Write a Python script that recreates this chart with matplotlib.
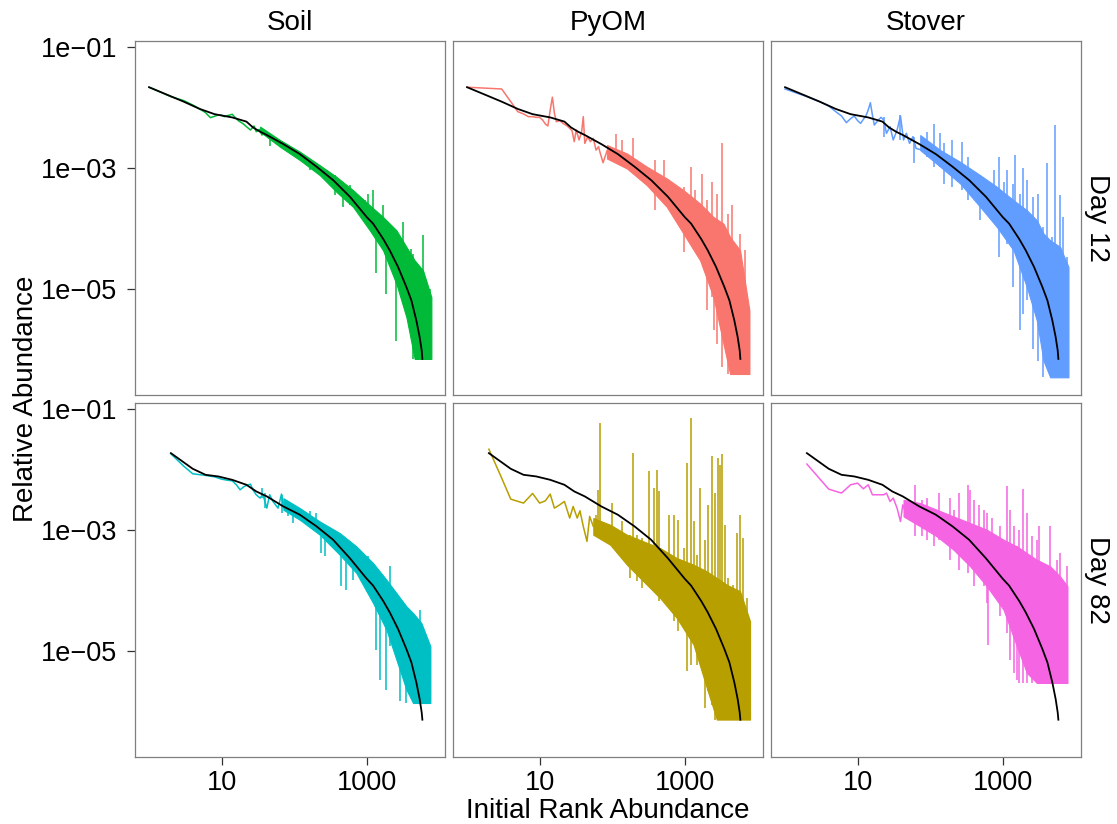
import matplotlib
matplotlib.use("Agg")
import matplotlib.pyplot as plt

plt.rcParams['font.family'] = ['Liberation Sans', 'DejaVu Sans']

# ---------------- categories / labels ----------------
treatments = ["Soil", "PyOM", "Stover"]
days = ["Day 12", "Day 82"]
x_tick_values = [10, 1000]
x_tick_labels = ["10", "1000"]
y_tick_values = [1e-1, 1e-3, 1e-5]
y_tick_labels = ["1e\u221201", "1e\u221203", "1e\u221205"]
x_title = "Initial Rank Abundance"
y_title = "Relative Abundance"

# ---------------- reference (initial) rank abundance curves, black ----------------
ref_d12_rank = [1, 2, 3, 5, 8, 14, 22, 27, 34, 42, 71, 120, 204, 347, 589, 1000, 1227, 1694, 2080, 2710,
                3532, 4140, 4842, 5383, 5741, 5861]
ref_d12_ra = [0.0215, 0.0152, 0.0124, 0.0094, 0.0077, 0.0068, 0.0058, 0.00466, 0.00394, 0.00348, 0.00246,
              0.00168, 0.00104, 6.2e-4, 3.3e-4, 1.53e-4, 1.19e-4, 6.6e-5, 4.3e-5, 2.28e-5, 1.06e-5, 6.37e-6,
              2.97e-6, 1.57e-6, 9.44e-7, 6.87e-7]
ref_d82_rank = [2, 4, 6, 9, 14, 22, 30, 42, 71, 120, 203, 344, 584, 1000, 1227, 1694, 2080, 2710, 3532, 4140,
                4842, 5383, 5741, 5861]
ref_d82_ra = [0.0185, 0.0102, 0.00811, 0.00762, 0.0067, 0.00554, 0.00431, 0.00356, 0.00243, 0.00177, 0.00114,
              6.84e-4, 3.4e-4, 1.55e-4, 1.19e-4, 6.6e-5, 4.3e-5, 2.28e-5, 1.06e-5, 6.37e-6, 2.97e-6, 1.57e-6,
              9.44e-7, 7.2e-7]

# ---------------- Soil, Day 12 ----------------
soil_d12_early_rank = [1, 2, 3, 4, 5, 6, 7, 8, 9, 10, 11, 12, 13, 14, 15, 17, 20, 22, 25, 28, 30, 33, 36, 40]
soil_d12_early_ra = [0.0215, 0.0150, 0.0129, 0.0109, 0.00938, 0.00816, 0.00675, 0.0071, 0.00746, 0.00736, 0.0070,
                     0.00728, 0.00746, 0.00766, 0.0070, 0.00601, 0.0053, 0.00479, 0.00421, 0.00491, 0.00395,
                     0.00432, 0.00348, 0.0038]
soil_d12_band_rank = [34, 64, 120, 226, 383, 650, 1104, 1683, 2570, 3532, 4592, 5985, 7798]
soil_d12_band_lo = [3.94e-3, 2.22e-3, 1.34e-3, 7.54e-4, 3.99e-4, 2.25e-4, 9.23e-5, 4.3e-5, 1.2e-5, 3.37e-6,
                    6.87e-7, 6.87e-7, 6.87e-7]
soil_d12_band_hi = [4.78e-3, 2.87e-3, 1.84e-3, 1.1e-3, 7.07e-4, 4.25e-4, 2.39e-4, 1.53e-4, 9.23e-5, 4.89e-5,
                    2.93e-5, 2.0e-5, 7.23e-6]
soil_d12_spike_rank = [46, 164, 363, 473, 584, 941, 1047, 1227, 1334, 1683, 1871, 2570, 3177, 4140, 4360, 5985, 7390]
soil_d12_spike_hi = [3.47e-3, 1.34e-3, 7.54e-4, 5.85e-4, 5.14e-4, 2.9e-4, 3.74e-4, 4.25e-4, 7.14e-5, 2.4e-4,
                     4.3e-5, 5.55e-5, 1.27e-4, 4.58e-5, 3.79e-5, 7.62e-5, 9.96e-6]
soil_d12_spike_lo = [2.28e-3, 9.12e-4, 3.51e-4, 2.25e-4, 2.39e-4, 1.35e-4, 1.53e-4, 1.19e-4, 1.81e-5, 5.55e-5,
                     8.22e-6, 1.38e-6, 7.23e-6, 2.3e-6, 6.87e-7, 4.35e-6, 6.87e-7]

# ---------------- PyOM, Day 12 ----------------
pyom_d12_early_rank = [1, 2, 3, 4, 5, 6, 7, 8, 9, 10, 11, 12, 13, 14, 15, 16, 17, 19, 21, 24, 26, 28, 30, 32,
                       35, 38, 40, 42, 46, 50, 55, 60, 65, 68, 75, 85]
pyom_d12_early_ra = [0.0215, 0.0206, 0.0201, 0.0124, 0.00847, 0.00777, 0.0070, 0.0070, 0.00682, 0.00682,
                     0.00616, 0.0053, 0.00491, 0.00903, 0.0147, 0.00796, 0.00578, 0.00601, 0.00543, 0.00491,
                     0.00449, 0.0041, 0.0027, 0.00421, 0.00288, 0.00395, 0.0070, 0.00253, 0.00327, 0.0027,
                     0.00306, 0.00196, 0.00223, 0.0018, 0.00121, 0.0019]
pyom_d12_band_rank = [85, 160, 301, 568, 963, 1634, 2493, 3427, 4234, 5808, 7809]
pyom_d12_band_lo = [1.42e-3, 9.73e-4, 5.14e-4, 2.25e-4, 8.13e-5, 2.93e-5, 7.23e-6, 1.22e-6, 3.87e-7, 3.87e-7,
                    3.87e-7]
pyom_d12_band_hi = [2.37e-3, 1.72e-3, 1.04e-3, 6.64e-4, 4.25e-4, 2.55e-4, 1.53e-4, 1.19e-4, 7.14e-5, 4.3e-5,
                    4.35e-6]
pyom_d12_spike_rank = [113, 136, 197, 393, 511, 984, 1216, 1396, 1722, 2018, 2366, 2576, 2774, 3251, 4018, 4467,
                       4955, 5808, 6808, 7655]
pyom_d12_spike_hi = [3.61e-3, 2.87e-3, 3.05e-3, 1.34e-3, 1.34e-3, 4.83e-4, 1.01e-3, 4.25e-4, 8.03e-4, 2.9e-4,
                     5.85e-4, 5.55e-5, 3.74e-4, 2.59e-3, 1.74e-4, 2.39e-4, 2.93e-5, 8.13e-5, 4.3e-5, 4.64e-6]
pyom_d12_spike_lo = [1.52e-3, 1.34e-3, 9.73e-4, 1.98e-4, 3.74e-4, 4.04e-5, 1.98e-4, 5.55e-5, 4.3e-5, 4.35e-6,
                     7.23e-6, 2.03e-6, 1.22e-6, 5.0e-7, 3.87e-7, 3.87e-7, 3.87e-7, 3.87e-7, 3.87e-7, 3.87e-7]

# ---------------- Stover, Day 12 ----------------
stover_d12_early_rank = [1, 2, 3, 4, 5, 6, 7, 8, 9, 10, 11, 12, 13, 14, 15, 16, 17, 19, 21, 23, 25, 28, 31, 35,
                         39, 43, 47, 52, 58, 64, 73]
stover_d12_early_ra = [0.0201, 0.0150, 0.0124, 0.0105, 0.00847, 0.00718, 0.00557, 0.00649, 0.00718, 0.00601,
                       0.00543, 0.00632, 0.00718, 0.00903, 0.0119, 0.00746, 0.00509, 0.00601, 0.00682, 0.00616,
                       0.00371, 0.00479, 0.00288, 0.00421, 0.00718, 0.00288, 0.00371, 0.00253, 0.00327, 0.00209,
                       0.0020]
stover_d12_band_rank = [73, 138, 260, 490, 831, 1412, 2155, 2958, 3655, 4518, 6198, 8073]
stover_d12_band_lo = [1.96e-3, 1.04e-3, 5.48e-4, 2.25e-4, 1.05e-4, 4.3e-5, 1.06e-5, 2.97e-6, 6.44e-7, 3.41e-7,
                      3.41e-7, 3.41e-7]
stover_d12_band_hi = [3.47e-3, 1.96e-3, 1.25e-3, 7.53e-4, 4.83e-4, 2.9e-4, 1.98e-4, 1.35e-4, 8.13e-5, 6.3e-5,
                      4.89e-5, 2.28e-5]
stover_d12_spike_rank = [23, 39, 59, 90, 114, 135, 153, 199, 274, 328, 490, 748, 877, 1050, 1143, 1381, 1486,
                         1742, 1897, 2155, 2606, 3119, 3655, 4064, 4759, 5284, 6198, 6745, 7816]
stover_d12_spike_hi = [7.0e-3, 7.45e-3, 3.26e-3, 3.95e-3, 5.28e-3, 3.7e-3, 2.52e-3, 2.87e-3, 2.69e-3, 1.52e-3,
                       7.08e-4, 9.12e-4, 1.52e-3, 5.85e-4, 9.12e-4, 5.48e-4, 1.62e-3, 3.74e-4, 9.73e-4, 6.22e-4,
                       3.3e-4, 3.74e-4, 1.05e-4, 1.18e-3, 7.16e-5, 5.08e-3, 3.51e-4, 1.53e-4, 3.33e-5]
stover_d12_spike_lo = [3.26e-3, 2.87e-3, 1.18e-3, 1.52e-3, 1.04e-3, 1.04e-3, 5.48e-4, 4.83e-4, 4.25e-4, 2.9e-4,
                       1.35e-4, 1.98e-4, 3.33e-5, 8.13e-5, 5.55e-5, 1.06e-5, 4.3e-5, 2.03e-6, 3.83e-6, 6.37e-6,
                       1.01e-6, 6.44e-7, 3.41e-7, 5.0e-7, 3.41e-7, 3.41e-7, 3.41e-7, 3.41e-7, 3.41e-7]

# ---------------- Soil, Day 82 ----------------
soil_d82_early_rank = [2, 3, 4, 6, 8, 10, 12, 14, 16, 18, 20, 22, 25, 27, 30, 34, 37, 42, 46, 51, 60, 67, 71]
soil_d82_early_ra = [0.0180, 0.0113, 0.00843, 0.00791, 0.0075, 0.00687, 0.0066, 0.00645, 0.00554, 0.00458,
                     0.0051, 0.00541, 0.00569, 0.00458, 0.00379, 0.00334, 0.00389, 0.00228, 0.00379, 0.00294,
                     0.00228, 0.00389, 0.0024]
soil_d82_band_rank = [71, 120, 226, 426, 722, 1227, 1872, 2570, 3532, 4358, 5680, 7556]
soil_d82_band_lo = [2.14e-3, 1.46e-3, 8.26e-4, 3.85e-4, 1.92e-4, 6.12e-5, 2.22e-5, 7.1e-6, 2.26e-6, 1.36e-6,
                    1.36e-6, 1.36e-6]
soil_d82_band_hi = [3.33e-3, 2.28e-3, 1.37e-3, 8.8e-4, 5.3e-4, 2.81e-4, 1.49e-4, 8.97e-5, 5.4e-5, 4.19e-5,
                    2.86e-5, 1.18e-5]
soil_d82_spike_rank = [36, 40, 67, 83, 97, 164, 203, 238, 265, 449, 515, 650, 1047, 1362, 1514, 1871, 2080, 2858,
                       3532, 4140, 5383, 6653, 7396]
soil_d82_spike_hi = [4.88e-3, 4.04e-3, 3.79e-3, 2.94e-3, 2.43e-3, 2.01e-3, 1.88e-3, 1.06e-3, 1.0e-3, 6.83e-4,
                     4.67e-4, 4.67e-4, 3.62e-4, 1.49e-4, 1.49e-4, 1.16e-4, 2.47e-4, 4.75e-5, 4.47e-5, 4.19e-5,
                     4.75e-5, 1.43e-5, 9.14e-6]
soil_d82_spike_lo = [3.33e-3, 2.28e-3, 1.88e-3, 1.66e-3, 1.29e-3, 1.21e-3, 1.0e-3, 4.11e-4, 3.62e-4, 1.16e-4,
                     1.02e-4, 1.49e-4, 8.97e-5, 1.04e-5, 3.31e-6, 2.26e-6, 1.18e-5, 1.45e-6, 1.36e-6, 2.0e-6,
                     1.36e-6, 1.36e-6, 1.36e-6]

# ---------------- PyOM, Day 82 ----------------
pyom_d82_early_rank = [2, 3, 4, 6, 8, 10, 12, 14, 16, 19, 22, 26, 29, 33, 36, 40, 45, 49, 55]
pyom_d82_early_ra = [0.0215, 0.00715, 0.00321, 0.00276, 0.00399, 0.00276, 0.00301, 0.00389, 0.00228, 0.00259,
                     0.00294, 0.00156, 0.00243, 0.00156, 0.00206, 0.00114, 0.000641, 0.00166, 0.00114]
pyom_d82_band_rank = [55, 94, 160, 271, 459, 779, 1324, 2019, 2775, 3809, 5808, 7980]
pyom_d82_band_lo = [8.26e-4, 5.65e-4, 2.64e-4, 1.4e-4, 7.41e-5, 3.47e-5, 1.26e-5, 2.42e-6, 7.23e-7, 7.23e-7,
                    7.23e-7, 7.23e-7]
pyom_d82_band_hi = [1.56e-3, 1.21e-3, 8.26e-4, 6.41e-4, 4.97e-4, 3.4e-4, 2.64e-4, 2.05e-4, 1.59e-4, 1.23e-4,
                    9.57e-5, 3.05e-5]
pyom_d82_spike_rank = [60, 63, 68, 101, 136, 174, 197, 219, 257, 324, 372, 413, 445, 599, 702, 822, 984, 1094,
                       1228, 1365, 1470, 1634, 1915, 2128, 2366, 2630, 2924, 3083, 3319, 3614, 4018, 4702, 5342,
                       5808, 6457, 7177, 7809]
pyom_d82_spike_hi = [1.77e-3, 4.58e-3, 0.0579, 2.76e-3, 1.37e-3, 8.26e-4, 0.0185, 8.26e-4, 7.28e-4, 9.21e-3,
                     4.89e-3, 9.81e-3, 4.31e-3, 1.77e-3, 1.77e-3, 1.46e-3, 4.97e-4, 0.0127, 0.0702, 1.37e-3,
                     3.86e-4, 4.89e-3, 6.84e-4, 2.59e-3, 0.0163, 4.04e-3, 0.0153, 0.0119, 0.0178, 1.21e-3,
                     1.59e-4, 1.23e-4, 8.81e-4, 1.77e-3, 7.28e-4, 7.41e-5, 3.47e-5]
pyom_d82_spike_lo = [1.14e-3, 1.06e-3, 9.38e-4, 7.28e-4, 3.86e-4, 1.59e-4, 4.38e-4, 1.4e-4, 1.09e-4, 2.64e-4,
                     1.59e-4, 9.57e-5, 6.54e-5, 5.75e-5, 3.05e-5, 2.08e-5, 3.47e-5, 4.55e-6, 5.86e-6, 1.62e-5,
                     5.86e-6, 8.59e-6, 1.13e-6, 2.13e-6, 1.28e-6, 7.23e-7, 7.23e-7, 7.23e-7, 7.23e-7, 7.23e-7,
                     7.23e-7, 7.23e-7, 7.23e-7, 7.23e-7, 7.23e-7, 7.23e-7, 7.23e-7]

# ---------------- Stover, Day 82 ----------------
stover_d82_early_rank = [2, 3, 4, 6, 8, 10, 12, 14, 16, 23, 25, 28, 31, 35, 39, 42, 46, 50, 55]
stover_d82_early_ra = [0.0122, 0.00697, 0.0047, 0.00404, 0.00554, 0.00591, 0.00476, 0.00554, 0.00379, 0.00379,
                       0.00404, 0.00294, 0.00334, 0.00228, 0.00137, 0.00259, 0.00188, 0.00243, 0.00201]
stover_d82_band_rank = [43, 73, 124, 210, 357, 606, 1028, 1568, 2153, 2956, 4517, 6197, 7818]
stover_d82_band_lo = [1.66e-3, 1.14e-3, 7.76e-4, 4.67e-4, 2.48e-4, 1.16e-4, 4.76e-5, 1.18e-5, 4.28e-6, 2.92e-6,
                      2.92e-6, 2.92e-6, 2.92e-6]
stover_d82_band_hi = [3.13e-3, 2.76e-3, 2.14e-3, 1.66e-3, 1.29e-3, 1.0e-3, 6.84e-4, 5.31e-4, 4.11e-4, 3.19e-4,
                      2.48e-4, 1.69e-4, 1.16e-4]
stover_d82_spike_rank = [62, 77, 90, 114, 131, 189, 210, 247, 289, 328, 357, 397, 465, 545, 606, 625, 710, 925,
                         1143, 1271, 1413, 1568, 1706, 1937, 2153, 2523, 2956, 3219, 3654, 4517, 5020, 5577,
                         6197, 6745, 7656]
stover_d82_spike_hi = [5.55e-3, 3.13e-3, 3.33e-3, 1.46e-3, 4.04e-3, 3.33e-3, 2.14e-3, 4.04e-3, 1.29e-3, 5.55e-3,
                       4.58e-3, 3.13e-3, 2.59e-3, 2.14e-3, 1.88e-3, 7.76e-4, 1.56e-3, 1.14e-3, 5.2e-3, 2.14e-3,
                       1.14e-3, 5.31e-4, 1.0e-3, 4.7e-3, 1.88e-3, 7.76e-4, 6.84e-4, 1.14e-3, 1.69e-4, 1.14e-3,
                       1.16e-4, 3.19e-4, 4.11e-4, 3.69e-5, 2.54e-4]
stover_d82_spike_lo = [7.76e-4, 7.76e-4, 6.84e-4, 5.31e-4, 6.84e-4, 3.19e-4, 4.67e-4, 2.18e-4, 3.19e-4, 1.92e-4,
                       3.19e-4, 1.16e-4, 1.69e-4, 1.16e-4, 6.14e-5, 1.26e-5, 8.97e-5, 3.69e-5, 1.96e-5, 7.1e-6,
                       4.28e-6, 3.32e-6, 2.92e-6, 2.92e-6, 2.92e-6, 2.92e-6, 2.92e-6, 2.92e-6, 2.92e-6, 2.92e-6,
                       2.92e-6, 2.92e-6, 2.92e-6, 2.92e-6, 2.92e-6]

colors = {
    ("Soil", "Day 12"): "#00BA38", ("PyOM", "Day 12"): "#F8766D", ("Stover", "Day 12"): "#619CFF",
    ("Soil", "Day 82"): "#00BFC4", ("PyOM", "Day 82"): "#B79F00", ("Stover", "Day 82"): "#F564E3",
}

series = {
    ("Soil", "Day 12"): (soil_d12_early_rank, soil_d12_early_ra, soil_d12_band_rank, soil_d12_band_lo,
                         soil_d12_band_hi, soil_d12_spike_rank, soil_d12_spike_lo, soil_d12_spike_hi),
    ("PyOM", "Day 12"): (pyom_d12_early_rank, pyom_d12_early_ra, pyom_d12_band_rank, pyom_d12_band_lo,
                         pyom_d12_band_hi, pyom_d12_spike_rank, pyom_d12_spike_lo, pyom_d12_spike_hi),
    ("Stover", "Day 12"): (stover_d12_early_rank, stover_d12_early_ra, stover_d12_band_rank, stover_d12_band_lo,
                           stover_d12_band_hi, stover_d12_spike_rank, stover_d12_spike_lo, stover_d12_spike_hi),
    ("Soil", "Day 82"): (soil_d82_early_rank, soil_d82_early_ra, soil_d82_band_rank, soil_d82_band_lo,
                         soil_d82_band_hi, soil_d82_spike_rank, soil_d82_spike_lo, soil_d82_spike_hi),
    ("PyOM", "Day 82"): (pyom_d82_early_rank, pyom_d82_early_ra, pyom_d82_band_rank, pyom_d82_band_lo,
                         pyom_d82_band_hi, pyom_d82_spike_rank, pyom_d82_spike_lo, pyom_d82_spike_hi),
    ("Stover", "Day 82"): (stover_d82_early_rank, stover_d82_early_ra, stover_d82_band_rank, stover_d82_band_lo,
                           stover_d82_band_hi, stover_d82_spike_rank, stover_d82_spike_lo, stover_d82_spike_hi),
}
references = {"Day 12": (ref_d12_rank, ref_d12_ra), "Day 82": (ref_d82_rank, ref_d82_ra)}

# ---------------- layout ----------------
W, H = 1117, 824
fig = plt.figure(figsize=(W / 100, H / 100), dpi=100)
col_left = [135, 453, 771]
col_w = 310
row_top = [41, 403]
row_h = 354
FS_TICK = 19.5
FS = 20
border = "#7F7F7F"

for r, day in enumerate(days):
    for c, trt in enumerate(treatments):
        ax = fig.add_axes([col_left[c] / W, 1 - (row_top[r] + row_h) / H, col_w / W, row_h / H])
        ax.set_xscale("log")
        ax.set_yscale("log")
        col = colors[(trt, day)]
        er, ev, br, blo, bhi, sr, slo, shi = series[(trt, day)]
        ax.fill_between(br, blo, bhi, color=col, lw=0.8, edgecolor=col)
        ax.plot(er, ev, color=col, lw=1.1)
        ax.vlines(sr, slo, shi, color=col, lw=1.1)
        rr, rv = references[day]
        ax.plot(rr, rv, color="black", lw=1.3)

        ax.set_xlim(10 ** -0.194, 10 ** 4.08)
        ax.set_ylim(10 ** -6.76, 10 ** -0.903)
        ax.minorticks_off()
        ax.set_xticks(x_tick_values)
        ax.set_yticks(y_tick_values)
        for s in ax.spines.values():
            s.set_color(border)
            s.set_linewidth(0.9)
        ax.tick_params(axis="both", which="both", color="#333333", width=0.9, length=5.5,
                       labelsize=FS_TICK, labelcolor="black")
        ax.tick_params(axis="y", pad=7.5)
        ax.tick_params(axis="x", pad=4.0)
        if c == 0:
            ax.set_yticklabels(y_tick_labels)
        else:
            ax.tick_params(axis="y", length=0, labelleft=False)
        if r == 1:
            ax.set_xticklabels(x_tick_labels)
        else:
            ax.tick_params(axis="x", length=0, labelbottom=False)

        if r == 0:
            fig.text((col_left[c] + col_w / 2) / W, 1 - 23 / H, trt, ha="center", va="center", fontsize=FS)
        if c == 2:
            fig.text(1097 / W, 1 - (row_top[r] + row_h / 2) / H, day, ha="center", va="center",
                     rotation=-90, fontsize=FS)

fig.text(608 / W, 1 - 818 / H, x_title, ha="center", va="baseline", fontsize=FS)
fig.text(26 / W, 1 - 399 / H, y_title, ha="center", va="center", rotation=90, fontsize=FS)

fig.savefig("out.png", dpi=100)
